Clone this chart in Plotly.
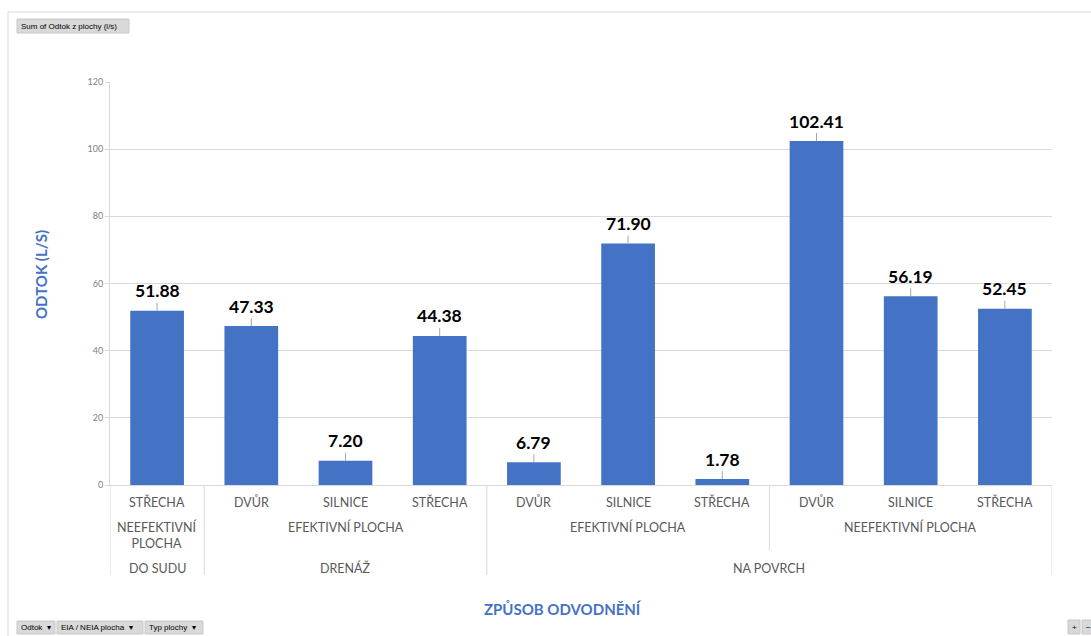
import plotly.graph_objects as go

# Pivot data: drainage method > surface class > surface type
druh = ["STŘECHA", "DVŮR", "SILNICE", "STŘECHA", "DVŮR", "SILNICE",
        "STŘECHA", "DVŮR", "SILNICE", "STŘECHA"]
plocha = ["NEEFEKTIVNÍ PLOCHA",
          "EFEKTIVNÍ PLOCHA", "EFEKTIVNÍ PLOCHA", "EFEKTIVNÍ PLOCHA",
          "EFEKTIVNÍ PLOCHA", "EFEKTIVNÍ PLOCHA", "EFEKTIVNÍ PLOCHA",
          "NEEFEKTIVNÍ PLOCHA", "NEEFEKTIVNÍ PLOCHA", "NEEFEKTIVNÍ PLOCHA"]
odvodneni = ["DO SUDU", "DRENÁŽ", "DRENÁŽ", "DRENÁŽ",
             "NA POVRCH", "NA POVRCH", "NA POVRCH",
             "NA POVRCH", "NA POVRCH", "NA POVRCH"]
odtok = [51.88, 47.33, 7.20, 44.38, 6.79, 71.90, 1.78, 102.41, 56.19, 52.45]

W, H = 1091, 636
L, R, T, B = 110, 39, 82, 151
PW, PH = W - L - R, H - T - B

BLUE = "#4472c4"
GREY_TXT = "#595959"
LINE = "#d9d9d9"
FONT = "Lato"


def px_x(px):
    return (px - L) / PW


def px_y(py):
    return (H - B - py) / PH


xs = list(range(len(odtok)))

fig = go.Figure(go.Bar(
    x=xs, y=odtok, marker=dict(color=BLUE, line=dict(width=0)),
    hoverinfo="skip",
))

annotations = []
shapes = []

# Value labels with short leader lines
for x, v in zip(xs, odtok):
    annotations.append(dict(
        x=x, y=v, xref="x", yref="y", text=f"{v:.2f}",
        showarrow=True, arrowhead=0, arrowwidth=1, arrowcolor="#a6a6a6",
        ax=0, ay=-20, standoff=0,
        font=dict(family=FONT, size=17.5, color="#000000", weight="bold"),
    ))


def runs(keys):
    out = []
    start = 0
    for i in range(1, len(keys) + 1):
        if i == len(keys) or keys[i] != keys[start]:
            out.append((start, i - 1, keys[start]))
            start = i
    return out


lvl_font = dict(family=FONT, size=12.5, color=GREY_TXT)

# Level 1: surface type
for x, t in zip(xs, druh):
    annotations.append(dict(x=x, y=px_y(502), xref="x", yref="paper",
                            text=t, showarrow=False, font=lvl_font,
                            yanchor="middle"))

# Level 2: surface class (grouped within drainage method)
pairs = list(zip(odvodneni, plocha))
for a, b, key in runs(pairs):
    label = key[1]
    ypos = 527
    if a == b:
        label = label.replace(" ", "<br>")
        ypos = 535
    annotations.append(dict(x=(a + b) / 2, y=px_y(ypos), xref="x", yref="paper",
                            text=label, showarrow=False, font=lvl_font,
                            yanchor="middle"))

# Level 3: drainage method
top_groups = runs(odvodneni)
for a, b, key in top_groups:
    annotations.append(dict(x=(a + b) / 2, y=px_y(568), xref="x", yref="paper",
                            text=key, showarrow=False, font=lvl_font,
                            yanchor="middle"))

# Group separators below the category axis
top_bounds = {-0.5, len(xs) - 0.5} | {b + 0.5 for a, b, _ in top_groups}
mid_bounds = {b + 0.5 for a, b, _ in runs(pairs)}
for xb in sorted(top_bounds | mid_bounds):
    bottom = 575 if xb in top_bounds else 550
    shapes.append(dict(type="line", xref="x", yref="paper",
                       x0=xb, x1=xb, y0=0, y1=px_y(bottom),
                       line=dict(color=LINE, width=1)))

# Axis titles
annotations.append(dict(x=px_x(563), y=px_y(609), xref="paper", yref="paper",
                        text="ZPŮSOB ODVODNĚNÍ", showarrow=False,
                        font=dict(family=FONT, size=15, color=BLUE, weight="bold"),
                        yanchor="middle"))
annotations.append(dict(x=px_x(41), y=px_y(275), xref="paper", yref="paper",
                        text="ODTOK (L/S)", showarrow=False, textangle=-90,
                        font=dict(family=FONT, size=15, color=BLUE, weight="bold"),
                        xanchor="center", yanchor="middle"))

# Chart frame (top and left edges)
shapes.append(dict(type="line", xref="paper", yref="paper",
                   x0=px_x(8), x1=px_x(W), y0=px_y(12), y1=px_y(12),
                   line=dict(color="#d9d9d9", width=1)))
shapes.append(dict(type="line", xref="paper", yref="paper",
                   x0=px_x(8), x1=px_x(8), y0=px_y(12), y1=px_y(H),
                   line=dict(color="#d9d9d9", width=1)))

# Pivot field buttons
btn_font = dict(family="Liberation Sans", size=8, color="#000000")


def button(text, x0, x1, y0, y1):
    shapes.append(dict(type="rect", xref="paper", yref="paper",
                       x0=px_x(x0), x1=px_x(x1), y0=px_y(y1), y1=px_y(y0),
                       fillcolor="#d9d9d9", line=dict(color="#c8c8c8", width=1),
                       layer="above"))
    annotations.append(dict(x=px_x(x0 + 2), y=px_y((y0 + y1) / 2),
                            xref="paper", yref="paper", text=text,
                            showarrow=False, xanchor="left", yanchor="middle",
                            font=btn_font))


button("Sum of Odtok z plochy (l/s)", 17, 129, 19, 33)
button("Odtok  ▾", 17, 55, 621, 634)
button("EIA / NEIA plocha  ▾", 57, 143, 621, 634)
button("Typ plochy  ▾", 145, 203, 621, 634)
button("+", 1068, 1080, 620, 634)
button("−", 1082, 1094, 620, 634)

fig.update_layout(
    width=W, height=H,
    margin=dict(l=L, r=R, t=T, b=B, pad=0),
    paper_bgcolor="white", plot_bgcolor="white",
    showlegend=False,
    bargap=0.43,
    font=dict(family=FONT, color=GREY_TXT),
    xaxis=dict(range=[-0.5, len(xs) - 0.5], showticklabels=False,
               showgrid=False, zeroline=False, showline=True,
               linecolor=LINE, linewidth=1, ticks=""),
    yaxis=dict(range=[0, 120], dtick=20, showgrid=True, gridcolor=LINE,
               gridwidth=1, zeroline=False, showline=True, linecolor=LINE,
               ticks="outside", ticklen=4, tickcolor=LINE,
               tickfont=dict(family=FONT, size=9, color="#7f7f7f")),
    annotations=annotations,
    shapes=shapes,
)

fig.write_html("out.html")
